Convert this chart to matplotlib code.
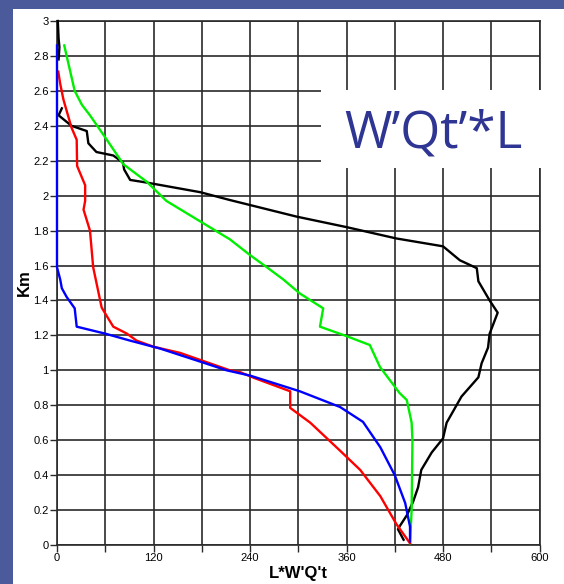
import numpy as np
import matplotlib.pyplot as plt
from matplotlib.patches import Rectangle

# profiles (x = L*W'Q't, y = height in km)
black_x = [1, 2, 3, 2, np.nan, 6, 2, 18, 37, 39, 49, 70, 82, 83.5, 91, 111.5, 178, 215, 298,
           360, 422, 480, 501, 522, 524, 538, 548, 538, 536, 528, 524, 503, 484.5, 480, 466,
           453, 449, 443, 435, 426.5, 424, 431]
black_y = [3.0, 2.9, 2.85, 2.78, np.nan, 2.50, 2.46, 2.40, 2.37, 2.30, 2.25, 2.23, 2.19, 2.15,
           2.09, 2.075, 2.02, 1.975, 1.88, 1.82, 1.755, 1.71, 1.63, 1.585, 1.51, 1.40, 1.33,
           1.21, 1.13, 1.04, 0.96, 0.85, 0.70, 0.61, 0.53, 0.43, 0.33, 0.25, 0.17, 0.11, 0.09,
           0.03]

green_x = [9, 16, 22, 31, 41, 62, 82.5, 111.5, 136, 215, 240, 261, 281.5, 302, 331, 327, 360,
           389, 401.5, 426, 435, 441, 442, 441, 439]
green_y = [2.86, 2.72, 2.60, 2.52, 2.46, 2.32, 2.18, 2.08, 1.97, 1.75, 1.66, 1.59, 1.52, 1.44,
           1.355, 1.25, 1.196, 1.145, 1.02, 0.87, 0.83, 0.70, 0.60, 0.20, 0.01]

red_x = [1.6, 4, 8, 18, 24.5, 25, 35, 35, 33, 41, 45, 55.5, 62, 70, 87, 99, 120, 153, 215,
         227.5, 246, 290, 290, 315, 352, 377, 402, 422, 439]
red_y = [2.71, 2.64, 2.55, 2.39, 2.32, 2.17, 2.06, 1.97, 1.92, 1.80, 1.59, 1.36, 1.31, 1.25,
         1.21, 1.17, 1.135, 1.10, 1.00, 0.99, 0.955, 0.88, 0.785, 0.70, 0.54, 0.43, 0.28, 0.12,
         0.01]

blue_x = [0, 0, 4, 6, 12, 22, 24.5, 60, 91, 128, 178, 211, 240, 302, 352, 380.5, 402, 420, 433,
          439, 439]
blue_y = [2.86, 1.59, 1.52, 1.47, 1.42, 1.355, 1.25, 1.21, 1.17, 1.125, 1.05, 1.00, 0.97, 0.88,
          0.79, 0.705, 0.56, 0.40, 0.24, 0.105, 0.02]

x_ticks = [0, 120, 240, 360, 480, 600]
x_minor = [60, 180, 300, 420, 540]
y_ticks = [0, 0.2, 0.4, 0.6, 0.8, 1, 1.2, 1.4, 1.6, 1.8, 2, 2.2, 2.4, 2.6, 2.8, 3]
y_labels = ['0', '0.2', '0.4', '0.6', '0.8', '1', '1.2', '1.4', '1.6', '1.8', '2', '2.2', '2.4',
            '2.6', '2.8', '3']

W, H = 564, 584
fig = plt.figure(figsize=(W / 100, H / 100), dpi=100)
fig.patch.set_facecolor('#4b5a9b')
fig.add_artist(Rectangle((13 / W, 0), 1, (H - 9) / H, transform=fig.transFigure,
                         facecolor='white', edgecolor='none', zorder=0))

ax = fig.add_axes([57 / W, (H - 545) / H, 482.5 / W, 524 / H])
ax.set_xlim(0, 600)
ax.set_ylim(0, 3)
ax.set_xticks(x_ticks)
ax.set_xticks(x_minor, minor=True)
ax.set_yticks(y_ticks)
ax.set_yticklabels(y_labels)
ax.grid(True, which='both', color='#2a2a2a', lw=1.2)
ax.set_axisbelow(True)
ax.tick_params(which='both', length=5, width=1, color='#2a2a2a', labelsize=8, pad=1)
for s in ax.spines.values():
    s.set_color('#2a2a2a')
    s.set_linewidth(1.2)
for lab in ax.get_xticklabels() + ax.get_yticklabels():
    lab.set_family('Liberation Sans')

for xs, ys, c in [(black_x, black_y, 'black'), (green_x, green_y, '#00ee00'),
                  (red_x, red_y, 'red'), (blue_x, blue_y, 'blue')]:
    ax.plot(xs, ys, color=c, lw=1.7, zorder=3, clip_on=False)

ax.set_xlabel("L*W'Q't", fontsize=12, fontweight='bold', family='Liberation Sans', labelpad=2)
ax.set_ylabel('Km', fontsize=12, fontweight='bold', family='Liberation Sans', labelpad=1)

# title panel covering the grid
fig.add_artist(Rectangle((321 / W, (H - 168) / H), 224 / W, 78 / H, transform=fig.transFigure,
                         facecolor='white', edgecolor='none', zorder=5))
fig.text(433 / W, (H - 134) / H, 'W\u2019Qt\u2019*L', fontsize=37, color='#2e3592',
         family='Open Sans', ha='center', va='center', zorder=6)

fig.savefig('out.png', dpi=100, facecolor=fig.get_facecolor())
